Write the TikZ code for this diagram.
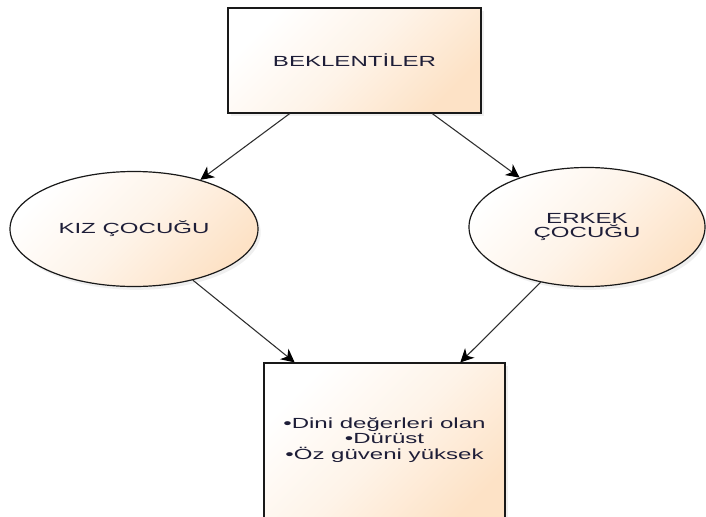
\documentclass[tikz,border=0pt]{standalone}
\usepackage{fontspec}
\setmainfont{Liberation Sans}
\newfontfamily\widefont[FakeStretch=1.64]{Liberation Sans}
\usetikzlibrary{arrows.meta,shadows,calc,shapes.geometric}
\definecolor{peach}{HTML}{FDE2C6}
\definecolor{txt}{HTML}{1E1E38}
\definecolor{lnk}{HTML}{2E2E2E}
\tikzset{
  shp/.style={draw=black!90, line width=0.9pt, top color=white, bottom color=peach, middle color=peach!40, shading angle=45,
    drop shadow={shadow xshift=2pt, shadow yshift=-2.5pt, opacity=0.12},
    font=\widefont\fontsize{11}{12}\selectfont, text=txt, align=center, inner sep=0pt},
  boxshape/.style={shp, rectangle},
  ellshape/.style={shp, ellipse},
  link/.style={draw=lnk, line width=0.8pt, -{Stealth[length=10pt,width=10pt,inset=3pt,black]}}
}
\begin{document}
\begin{tikzpicture}[x=0.75pt,y=-0.75pt]
\useasboundingbox (0,0) rectangle (706,517);
\clip (0,0) rectangle (706,517);
\fill[white] (0,0) rectangle (706,517);
\node[boxshape, minimum width=189.75pt, minimum height=78.75pt] (top) at (354.5,60.5) {BEKLENTİLER};
\node[ellshape, minimum width=186pt, minimum height=86.25pt] (kiz) at (134,229) {KIZ ÇOCUĞU};
\node[ellshape, minimum width=177pt, minimum height=89.25pt] (erkek) at (587,227) {ERKEK\\[-1.5pt]ÇOCUĞU};
\node[boxshape, minimum width=180.75pt, minimum height=125.25pt] (bot) at (384.5,446.5) {};
\node[font=\widefont\fontsize{11}{11.5}\selectfont, text=txt, align=center] (btxt) at (384.5,440) {•Dini değerleri olan\\•Dürüst\\•Öz güveni yüksek};
\coordinate (s1) at ($(top.south west)!0.245!(top.south east)$);
\coordinate (s2) at ($(top.south west)!0.806!(top.south east)$);
\coordinate (e3) at ($(bot.north west)!0.129!(bot.north east)$);
\coordinate (e4) at ($(bot.north west)!0.813!(bot.north east)$);
\draw[link] (s1) -- (kiz);
\draw[link] (s2) -- (erkek);
\draw[link] (kiz.-41) -- (e3);
\draw[link] (erkek.-130) -- (e4);
\end{tikzpicture}
\end{document}
